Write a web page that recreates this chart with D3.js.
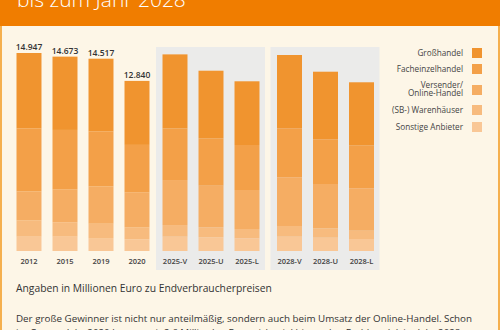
<!DOCTYPE html>
<html>
<head>
<meta charset="utf-8">
<script src="https://cdn.jsdelivr.net/npm/d3@7"></script>
<style>
  body { margin: 0; background: #fdf6e7; }
  svg { display: block; font-family: "Open Sans", sans-serif; }
</style>
</head>
<body>
<div id="viz"></div>
<script>
// Data (Millionen Euro)
var categories = ["2012", "2015", "2019", "2020", "2025-V", "2025-U", "2025-L", "2028-V", "2028-U", "2028-L"];
var groupOf    = [0, 0, 0, 0, 1, 1, 1, 2, 2, 2];
var totals     = [14947, 14673, 14517, 12840, null, null, null, null, null, null];
var seriesNames = ["Großhandel", "Facheinzelhandel", "Versender/\nOnline-Handel", "(SB-) Warenhäuser", "Sonstige Anbieter"];
var seriesColors = ["#f0942f", "#f3a048", "#f5ad63", "#f7bb7e", "#f9c796"];
var grosshandel      = [5692, 5534, 5488, 4831, 5586, 5103, 4809, 5533, 5103, 4756];
var facheinzelhandel = [4756, 4478, 4152, 3598, 3900, 3578, 3397, 3699, 3374, 3246];
var versender        = [2180, 2491, 2818, 2616, 3397, 3140, 2944, 3676, 3344, 3201];
var warenhaeuser     = [1238, 1087, 1082,  906,  880,  755,  702,  808,  710,  627];
var sonstige         = [1081, 1083,  977,  889, 1080, 1034,  959, 1080, 1004,  906];

var W = 500, H = 330;
var svg = d3.select("#viz").append("svg").attr("width", W).attr("height", H);

// background + frame
svg.append("rect").attr("width", W).attr("height", H).attr("fill", "#fdf6e7");
svg.append("rect").attr("x", 0).attr("y", 0).attr("width", 2).attr("height", H).attr("fill", "#f5b04f");
svg.append("rect").attr("x", W - 2).attr("y", 0).attr("width", 2).attr("height", H).attr("fill", "#f5b04f");
svg.append("rect").attr("x", 0).attr("y", 0).attr("width", W).attr("height", 26).attr("fill", "#f07d00");
svg.append("text").attr("x", 17).attr("y", 7)
  .attr("fill", "#fff").attr("font-size", 21).attr("font-weight", 300)
  .text("bis zum Jahr 2028");

// scales
var groupGap = [0, 2, 8.5];
var x = d3.scaleBand().domain(categories).range([16.5, 365.5]).paddingInner(0.306).paddingOuter(0);
var xPos = function(i) { return x(categories[i]) + groupGap[groupOf[i]]; };
var y = d3.scaleLinear().domain([0, 14947]).range([251, 53]);

// grey forecast panels
[1, 2].forEach(function(g) {
  var idx = categories.map(function(c, i) { return i; }).filter(function(i) { return groupOf[i] === g; });
  var x0 = xPos(idx[0]) - 6.5, x1 = xPos(idx[idx.length - 1]) + x.bandwidth() + 5.5;
  svg.append("rect").attr("x", x0).attr("y", 47).attr("width", x1 - x0).attr("height", 223)
    .attr("fill", "#ebebea");
});

// stack
var rows = categories.map(function(c, i) {
  return { cat: c, i: i, s0: grosshandel[i], s1: facheinzelhandel[i], s2: versender[i], s3: warenhaeuser[i], s4: sonstige[i] };
});
// bottom-up order: Sonstige at the bottom, Großhandel on top
var stack = d3.stack().keys(["s4", "s3", "s2", "s1", "s0"]);
var layers = stack(rows);

svg.append("g").selectAll("g")
  .data(layers)
  .enter().append("g")
  .attr("fill", function(d) { return seriesColors[+d.key.slice(1)]; })
  .selectAll("rect")
  .data(function(d) { return d; })
  .enter().append("rect")
  .attr("x", function(d) { return xPos(d.data.i); })
  .attr("width", x.bandwidth())
  .attr("y", function(d) { return y(d[1]); })
  .attr("height", function(d) { return y(d[0]) - y(d[1]); });

// total labels
svg.append("g").selectAll("text")
  .data(rows.filter(function(d) { return totals[d.i] != null; }))
  .enter().append("text")
  .attr("x", function(d) { return xPos(d.i) + x.bandwidth() / 2; })
  .attr("y", function(d) { return y(d.s0 + d.s1 + d.s2 + d.s3 + d.s4) - 3; })
  .attr("text-anchor", "middle").attr("font-size", 8.5).attr("font-weight", 600).attr("fill", "#333")
  .text(function(d) { return d3.format(",")(totals[d.i]).replace(/,/g, "."); });

// category labels
svg.append("g").selectAll("text")
  .data(rows)
  .enter().append("text")
  .attr("x", function(d) { return xPos(d.i) + x.bandwidth() / 2; })
  .attr("y", 264)
  .attr("text-anchor", "middle").attr("font-size", 7.5).attr("font-weight", 600).attr("fill", "#444")
  .text(function(d) { return d.cat; });

// legend
var legendTop = [48, 64, 85, 105, 122];
var legend = svg.append("g").selectAll("g")
  .data(seriesNames)
  .enter().append("g")
  .attr("transform", function(d, i) { return "translate(0," + legendTop[i] + ")"; });
legend.append("rect").attr("x", 472).attr("width", 10).attr("height", 10)
  .attr("fill", function(d, i) { return seriesColors[i]; });
legend.each(function(d) {
  var lines = d.split("\n");
  var t = d3.select(this).append("text")
    .attr("text-anchor", "end").attr("font-size", 8.2).attr("fill", "#444");
  lines.forEach(function(l, k) {
    t.append("tspan").attr("x", 463)
      .attr("y", lines.length > 1 ? k * 8.8 + 2.5 : 8)
      .text(l);
  });
});

// notes
svg.append("text").attr("x", 16).attr("y", 292)
  .attr("font-size", 10.3).attr("fill", "#333")
  .text("Angaben in Millionen Euro zu Endverbraucherpreisen");
svg.append("text").attr("x", 16).attr("y", 322)
  .attr("font-size", 9.8).attr("fill", "#333")
  .text("Der große Gewinner ist nicht nur anteilmäßig, sondern auch beim Umsatz der Online-Handel. Schon");
svg.append("text").attr("x", 16).attr("y", 336)
  .attr("font-size", 9.8).attr("fill", "#333")
  .text("im Corona-Jahr 2020 kam er mit 2,6 Milliarden Euro nicht viel hinter den Fachhandel, im Jahr 2028");
</script>
</body>
</html>
